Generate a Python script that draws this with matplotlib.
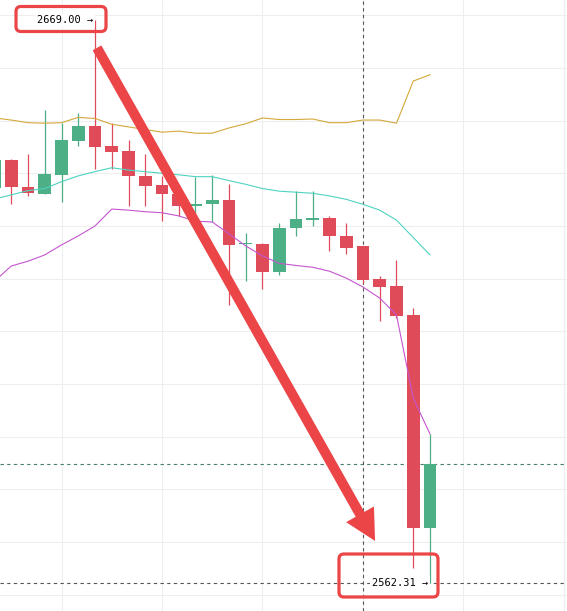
import matplotlib
matplotlib.use("Agg")
import matplotlib.pyplot as plt
import matplotlib.transforms as mtransforms
from matplotlib.patches import FancyBboxPatch, FancyArrowPatch

# candle data (index 0 is the partly hidden one on the left edge)
opens = [2637.2, 2642.5, 2637.3, 2636.1, 2639.7, 2646.2, 2649.0, 2645.2, 2644.2,
         2639.5, 2637.8, 2636.0, 2633.8, 2634.1, 2634.9, 2626.5, 2626.6, 2621.3,
         2629.7, 2631.1, 2631.6, 2628.1, 2626.1, 2620.0, 2618.6, 2613.1, 2572.7]
highs = [2643.5, 2642.8, 2643.6, 2652.1, 2649.6, 2651.4, 2669.00, 2649.5, 2646.3,
         2643.6, 2639.5, 2636.8, 2639.2, 2639.7, 2638.0, 2628.7, 2626.8, 2630.5,
         2636.6, 2636.6, 2631.9, 2630.6, 2626.1, 2620.5, 2623.5, 2614.4, 2590.5]
lows = [2636.0, 2634.2, 2635.7, 2636.1, 2634.6, 2645.2, 2640.9, 2640.9, 2633.7,
        2633.8, 2630.9, 2631.8, 2630.8, 2630.7, 2615.0, 2619.6, 2618.0, 2620.7,
        2628.1, 2630.0, 2625.3, 2624.6, 2619.2, 2612.0, 2612.5, 2565.1, 2562.31]
closes = [2642.5, 2637.3, 2636.2, 2639.9, 2646.3, 2649.0, 2645.0, 2644.1, 2639.4,
          2637.6, 2636.0, 2633.7, 2634.2, 2634.9, 2626.4, 2626.7, 2621.3, 2629.7,
          2631.3, 2631.5, 2628.0, 2625.9, 2619.7, 2618.5, 2612.9, 2572.7, 2584.8]

# bollinger bands
upper = [2650.5, 2650.1, 2649.6, 2649.5, 2649.6, 2650.6, 2650.4, 2649.3, 2648.8,
         2648.3, 2647.8, 2648.0, 2647.6, 2647.6, 2648.6, 2649.4, 2650.5, 2650.2,
         2650.2, 2650.3, 2649.6, 2649.6, 2650.1, 2650.1, 2649.5, 2657.5, 2658.7]
middle = [2635.1, 2635.9, 2636.7, 2637.1, 2638.4, 2639.5, 2640.3, 2641.05, 2640.6,
          2640.3, 2640.0, 2639.7, 2639.35, 2639.35, 2638.6, 2637.9, 2637.1, 2636.6,
          2636.4, 2636.2, 2635.7, 2635.05, 2634.1, 2633.0, 2631.1, 2627.8, 2624.5]
lower = [2619.5, 2622.4, 2623.3, 2624.5, 2626.4, 2628.1, 2630.0, 2633.2, 2633.0,
         2632.7, 2632.5, 2631.9, 2630.9, 2630.75, 2628.5, 2626.2, 2624.3, 2622.9,
         2622.5, 2622.15, 2621.4, 2620.1, 2618.4, 2616.3, 2613.1, 2597.3, 2590.5]

RED = '#e04b5a'
GREEN = '#4caf86'
MARK = '#ec4548'

x = list(range(len(opens)))

fig = plt.figure(figsize=(5.67, 6.11), dpi=100)
ax = fig.add_axes([0, 0, 1, 1])
ax.set_xlim(0.328, 34.18)
ax.set_ylim(2556.9, 2672.89)
for s in ax.spines.values():
    s.set_visible(False)
ax.set_xticks(range(4, 35, 6))
ax.set_yticks(range(2560, 2671, 10))
ax.tick_params(length=0, labelbottom=False, labelleft=False)
ax.grid(True, color='#eeeeee', lw=0.8, zorder=0)
ax.set_axisbelow(True)

# price lines and crosshair
ax.axhline(closes[-1], color='#4a7f70', lw=0.8, ls=(0, (3, 3)), zorder=1)
ax.axhline(lows[-1], color='#555555', lw=0.8, ls=(0, (3, 3)), zorder=1)
ax.axvline(22, color='#555555', lw=0.8, ls=(0, (3, 3)), zorder=1)

for i in x:
    col = GREEN if closes[i] >= opens[i] else RED
    ax.vlines(i, lows[i], highs[i], color=col, lw=0.9, zorder=2)
    h = closes[i] - opens[i]
    if abs(h) < 0.25:
        h = 0.25 if h >= 0 else -0.25
    ax.bar(i, h, bottom=opens[i], width=0.76, color=col, lw=0, zorder=3)

ax.plot(x, upper, color='#d4a83a', lw=0.8, zorder=4)
ax.plot(x, middle, color='#4fd3c0', lw=0.8, zorder=4)
ax.plot(x, lower, color='#c556d0', lw=0.8, zorder=4)

# max / min labels
i_hi = highs.index(max(highs))
i_lo = lows.index(min(lows))
lbl = dict(ha='right', va='center', family='DejaVu Sans Mono', fontsize=7.5,
           textcoords='offset pixels', zorder=6,
           bbox=dict(boxstyle='square,pad=0.15', fc='white', ec='none'))
ax.annotate('%.2f →' % highs[i_hi], xy=(i_hi, highs[i_hi]), xytext=(-2, 0), **lbl)
ax.annotate('%.2f →' % lows[i_lo], xy=(i_lo, lows[i_lo]), xytext=(-2, 0), **lbl)

fig.canvas.draw()


def box_at(px, py, x0, y0, w, h):
    tr = mtransforms.Affine2D().translate(*ax.transData.transform((px, py)))
    p = FancyBboxPatch((x0, y0), w, h, boxstyle='round,pad=0,rounding_size=5',
                       transform=tr, fc='none', ec=MARK, lw=2.3, zorder=7)
    fig.add_artist(p)


box_at(i_hi, highs[i_hi], -79, -11, 90, 25)
box_at(i_lo, lows[i_lo], -91, -14.5, 99, 43)

arrow = FancyArrowPatch((6.12, 2663.8), (22.72, 2570.2),
                        arrowstyle='simple,head_length=2.2,head_width=2.3,tail_width=0.72',
                        mutation_scale=10, shrinkA=0, shrinkB=0,
                        color=MARK, lw=0, zorder=8)
ax.add_patch(arrow)

fig.savefig('out.png', dpi=100)
